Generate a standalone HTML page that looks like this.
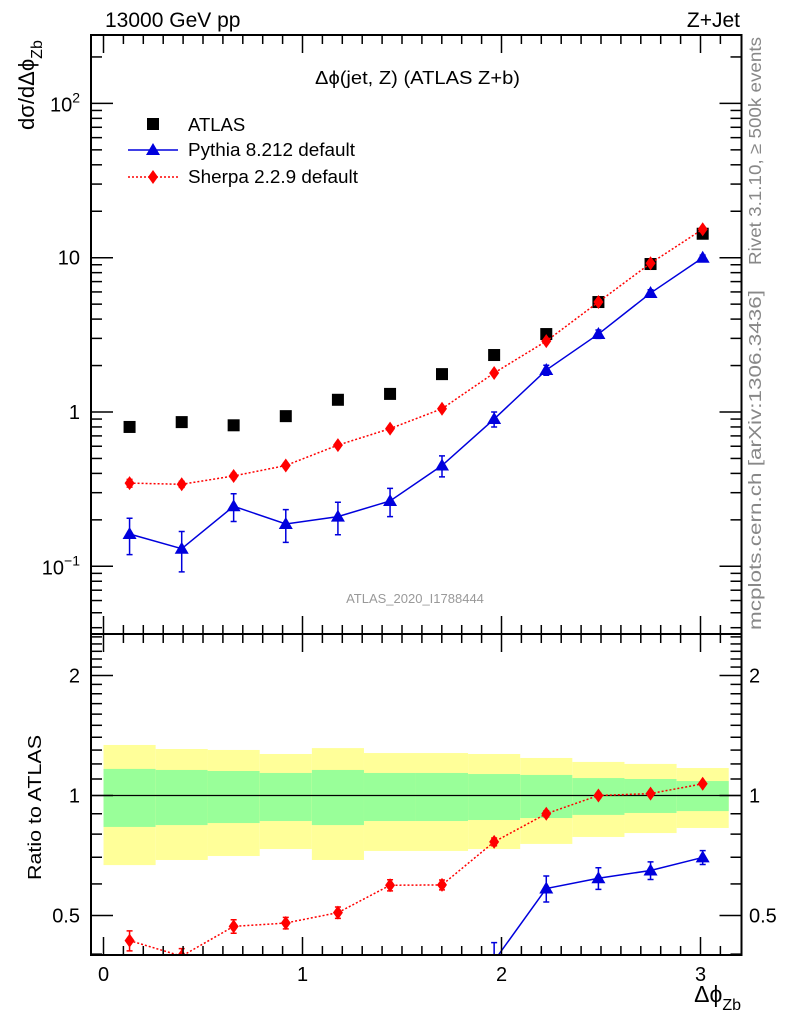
<!DOCTYPE html>
<html><head><meta charset="utf-8">
<style>
html,body{margin:0;background:#fff;overflow:hidden;width:786px;height:1024px;}
svg{display:block;font-family:"Liberation Sans",Arial,sans-serif;}
</style></head>
<body>
<svg id="chart" width="786" height="1024" xmlns="http://www.w3.org/2000/svg">
<g id="bands"></g>
<g id="marks"></g>
<g id="axes"></g>
<text x="105" y="27" font-size="21">13000 GeV pp</text>
<text x="740" y="27" font-size="21" text-anchor="end">Z+Jet</text>
<text x="315" y="84" font-size="18" textLength="205" lengthAdjust="spacingAndGlyphs">Δϕ(jet, Z) (ATLAS Z+b)</text>
<text x="415" y="603" font-size="13" fill="#999" text-anchor="middle">ATLAS_2020_I1788444</text>
<text transform="translate(761,265) rotate(-90)" font-size="17.5" fill="#888" textLength="228" lengthAdjust="spacingAndGlyphs">Rivet 3.1.10, ≥ 500k events</text>
<text transform="translate(761,630) rotate(-90)" font-size="17.5" fill="#888" textLength="340" lengthAdjust="spacingAndGlyphs">mcplots.cern.ch [arXiv:1306.3436]</text>
<text transform="translate(34,130) rotate(-90)" font-size="22">dσ/dΔϕ<tspan font-size="16" dy="8">Zb</tspan></text>
<text transform="translate(41,880) rotate(-90)" font-size="18" textLength="145" lengthAdjust="spacingAndGlyphs">Ratio to ATLAS</text>
<text x="741" y="1002" font-size="23" text-anchor="end">Δϕ<tspan font-size="16" dy="8">Zb</tspan></text>
<g>
<rect x="147" y="118" width="12" height="12" fill="#000"/>
<text x="188" y="131" font-size="18.5">ATLAS</text>
<line x1="128" y1="150" x2="178" y2="150" stroke="#0000dd" stroke-width="1.5"/>
<polygon points="153,143 160,155 146,155" fill="#0000dd"/>
<text x="188" y="156" font-size="18.5" textLength="167" lengthAdjust="spacingAndGlyphs">Pythia 8.212 default</text>
<line x1="128" y1="177" x2="178" y2="177" stroke="#f00" stroke-width="1.5" stroke-dasharray="2,2"/>
<polygon points="153,170 158,177 153,184 148,177" fill="#f00"/>
<text x="188" y="183" font-size="18.5" textLength="170" lengthAdjust="spacingAndGlyphs">Sherpa 2.2.9 default</text>
</g>
</svg>
<script>
const binCenters=[0.131,0.393,0.654,0.916,1.178,1.440,1.701,1.963,2.225,2.487,2.749,3.011];
const atlas=[0.80,0.86,0.82,0.94,1.20,1.31,1.76,2.34,3.2,5.16,9.1,14.3];
const sherpa=[0.346,0.34,0.385,0.45,0.61,0.78,1.05,1.79,2.88,5.16,9.2,15.3];
const sherpaErr=[0.02,0.015,0.015,0.015,0.02,0.025,0.03,0.04,0.05,0.07,0.1,0.15];
const pythia=[0.162,0.13,0.245,0.188,0.21,0.265,0.45,0.9,1.87,3.2,5.9,10.0];
const pythiaErr=[0.043,0.038,0.05,0.045,0.05,0.055,0.07,0.1,0.14,0.2,0.3,0.4];
const yellowHi=[1.339,1.308,1.301,1.271,1.315,1.278,1.278,1.271,1.242,1.214,1.200,1.172];
const greenHi=[1.166,1.159,1.152,1.139,1.159,1.139,1.139,1.132,1.126,1.106,1.100,1.087];
const greenLo=[0.834,0.843,0.853,0.863,0.843,0.863,0.863,0.868,0.878,0.894,0.904,0.914];
const yellowLo=[0.669,0.689,0.705,0.734,0.689,0.726,0.726,0.734,0.756,0.787,0.805,0.829];
const xTickLabels=["0","1","2","3"];
const binWidth=Math.PI/12;

const NS="http://www.w3.org/2000/svg";
const L=91,R=741.5,T1=35,B1=634,B2=955;
const X=v=>103.5+199*v;
const Y=v=>412-154.3*Math.log10(v);
const YR=v=>795.5-398.6*Math.log10(v);
function mk(tag,attrs,parent){const e=document.createElementNS(NS,tag);for(const k in attrs)e.setAttribute(k,attrs[k]);parent.appendChild(e);return e;}
const bands=document.getElementById('bands'),marks=document.getElementById('marks'),axes=document.getElementById('axes');

binCenters.forEach((c,i)=>{
 const x0=X(c-binWidth/2),x1=X(c+binWidth/2);
 let r=mk('rect',{x:x0,y:YR(yellowHi[i]),width:x1-x0,height:YR(yellowLo[i])-YR(yellowHi[i]),fill:'#ffff99'},bands);
 
 
 r=mk('rect',{x:x0,y:YR(greenHi[i]),width:x1-x0,height:YR(greenLo[i])-YR(greenHi[i]),fill:'#99ff99'},bands);
 
 
});
let ul=mk('line',{x1:L,x2:R,y1:YR(1),y2:YR(1),stroke:'#000','stroke-width':1.2},bands);



const defs=mk('defs',{},marks);
const cp=mk('clipPath',{id:'rclip'},defs);mk('rect',{x:L,y:B1,width:R-L,height:B2-B1},cp);
const rg=mk('g',{'clip-path':'url(#rclip)'},marks);

function series(vals,errs,yf,color,dash,shape,parent,name){
 const pts=binCenters.map((c,i)=>X(c)+','+yf(vals[i])).join(' ');
 const pl=mk('polyline',{points:pts,fill:'none',stroke:color,'stroke-width':1.5},parent);
 if(dash)pl.setAttribute('stroke-dasharray','2,2');
 
 
 binCenters.forEach((c,i)=>{
  const x=X(c),y=yf(vals[i]);
  if(errs){const e=mk('path',{d:`M${x},${yf(errs[0][i])}V${yf(errs[1][i])}M${x-3},${yf(errs[0][i])}h6M${x-3},${yf(errs[1][i])}h6`,stroke:color,'stroke-width':1.5,fill:'none'},parent);
   
   }
  const p=mk('polygon',{points:shape==='tri'?`${x},${y-7} ${x+7},${y+5} ${x-7},${y+5}`:`${x},${y-7} ${x+5},${y} ${x},${y+7} ${x-5},${y}`,fill:color},parent);
  
  
 });
}
binCenters.forEach((c,i)=>{
 const r=mk('rect',{x:X(c)-6,y:Y(atlas[i])-6,width:12,height:12,fill:'#000'},marks);
 
 
});
series(pythia,[pythia.map((v,i)=>v-pythiaErr[i]),pythia.map((v,i)=>v+pythiaErr[i])],Y,'#0000dd',false,'tri',marks,'pythia');
series(sherpa,[sherpa.map((v,i)=>v-sherpaErr[i]),sherpa.map((v,i)=>v+sherpaErr[i])],Y,'#ff0000',true,'dia',marks,'sherpa');
const pr=pythia.map((v,i)=>v/atlas[i]),sr=sherpa.map((v,i)=>v/atlas[i]);
series(pr,[pythia.map((v,i)=>(v-pythiaErr[i])/atlas[i]),pythia.map((v,i)=>(v+pythiaErr[i])/atlas[i])],YR,'#0000dd',false,'tri',rg,'pythia-ratio');
series(sr,[sherpa.map((v,i)=>(v-sherpaErr[i])/atlas[i]),sherpa.map((v,i)=>(v+sherpaErr[i])/atlas[i])],YR,'#ff0000',true,'dia',rg,'sherpa-ratio');

[[T1,B1],[B1,B2]].forEach(([t,b],k)=>{
 const f=mk('rect',{x:L,y:t,width:R-L,height:b-t,fill:'none',stroke:'#000','stroke-width':2},axes);
 
 
 for(let v=0;v<=3.2;v+=0.1){const vv=Math.round(v*10)/10;const maj=Math.abs(vv-Math.round(vv))<1e-6;const len=maj?18:9;const x=X(vv);
  mk('line',{x1:x,x2:x,y1:b,y2:b-len,stroke:'#000','stroke-width':1.5},axes);
  mk('line',{x1:x,x2:x,y1:t,y2:t+len,stroke:'#000','stroke-width':1.5},axes);}
});
xTickLabels.forEach(s=>{const t=mk('text',{x:X(+s),y:981,'font-size':20,'text-anchor':'middle'},axes);t.textContent=s;
 
 });
for(let d=-2;d<=2;d++)for(let m=1;m<10;m++){const v=m*Math.pow(10,d);const y=Y(v);if(y<T1||y>B1)continue;const len=m===1?22:11;
 mk('line',{x1:L,x2:L+len,y1:y,y2:y,stroke:'#000','stroke-width':1.5},axes);
 mk('line',{x1:R,x2:R-len,y1:y,y2:y,stroke:'#000','stroke-width':1.5},axes);}
[["10",2],["10",-1]].forEach(([b,e])=>{const t=mk('text',{x:80,y:Y(Math.pow(10,e))+8,'font-size':20,'text-anchor':'end'},axes);t.innerHTML=b+'<tspan font-size="14" dy="-9">'+(e<0?'−1':e)+'</tspan>';
 
 });
[["10",1],["1",0]].forEach(([s,e])=>{const t=mk('text',{x:80,y:Y(Math.pow(10,e))+7,'font-size':20,'text-anchor':'end'},axes);t.textContent=s;
 
 });
for(let i=4;i<=25;i++){const v=i/10;const y=YR(v);if(y<B1||y>B2)continue;const maj=(i===5||i===10||i===20);const len=maj?22:11;
 mk('line',{x1:L,x2:L+len,y1:y,y2:y,stroke:'#000','stroke-width':1.5},axes);
 mk('line',{x1:R,x2:R-len,y1:y,y2:y,stroke:'#000','stroke-width':1.5},axes);}
["0.5","1","2"].forEach(s=>{const y=YR(+s)+7;
 let t=mk('text',{x:80,y:y,'font-size':20,'text-anchor':'end'},axes);t.textContent=s;
 
 
 t=mk('text',{x:749,y:y,'font-size':20},axes);t.textContent=s;
 
 });
</script>
</body></html>
